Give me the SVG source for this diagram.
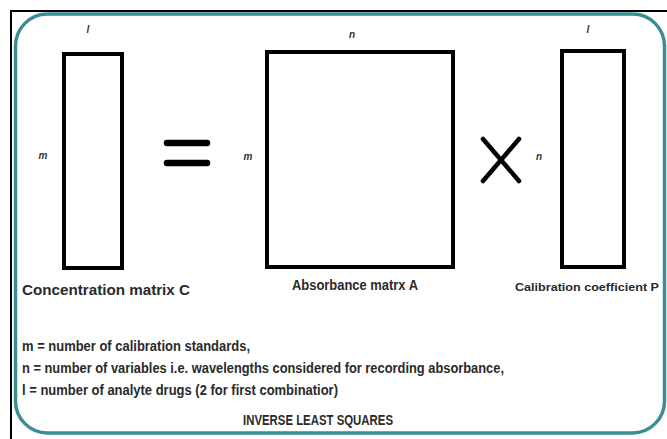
<svg xmlns="http://www.w3.org/2000/svg" width="667" height="439" viewBox="0 0 667 439">
<style>
.t{font-family:"Liberation Sans",Arial,sans-serif;font-weight:bold;fill:#2a2a2a;font-size:14px}
.d{font-family:"Liberation Sans",Arial,sans-serif;font-style:italic;font-weight:bold;fill:#333;font-size:10px}
.box{fill:none;stroke:#000;stroke-width:4}
</style>
<rect x="0" y="0" width="667" height="439" fill="#fff"/>
<rect x="11" y="11" width="670" height="440" fill="none" stroke="#000" stroke-width="2"/>
<rect x="15.5" y="14" width="649" height="419" rx="32" ry="32" fill="#fff" stroke="#3a8e93" stroke-width="3.5"/>
<g id="matrixC">
<rect class="box" x="64" y="54" width="58" height="214"/>
<text class="d" x="88" y="33" text-anchor="middle">l</text>
<text class="d" x="43" y="159" text-anchor="middle">m</text>
<text class="t" x="22" y="295" textLength="168" lengthAdjust="spacingAndGlyphs">Concentration matrix C</text>
</g>
<g id="equals">
<line x1="167" y1="143" x2="207" y2="143" stroke="#000" stroke-width="6.5" stroke-linecap="round"/>
<line x1="167" y1="163" x2="207" y2="163" stroke="#000" stroke-width="6.5" stroke-linecap="round"/>
</g>
<g id="matrixA">
<rect class="box" x="267" y="52" width="186" height="215"/>
<text class="d" x="352" y="38" text-anchor="middle">n</text>
<text class="d" x="248" y="160" text-anchor="middle">m</text>
<text class="t" x="292" y="290" textLength="126" lengthAdjust="spacingAndGlyphs">Absorbance matrx A</text>
</g>
<g id="times">
<line x1="483" y1="139" x2="519" y2="181" stroke="#000" stroke-width="4.5" stroke-linecap="round"/>
<line x1="519" y1="139" x2="483" y2="181" stroke="#000" stroke-width="4.5" stroke-linecap="round"/>
</g>
<g id="matrixP">
<rect class="box" x="562" y="51" width="62" height="216"/>
<text class="d" x="588" y="33" text-anchor="middle">l</text>
<text class="d" x="539" y="160" text-anchor="middle">n</text>
<text class="t" x="515" y="291" style="font-size:11.5px" textLength="144" lengthAdjust="spacingAndGlyphs">Calibration coefficient P</text>
</g>
<g id="legend">
<text class="t" x="22" y="351" textLength="228" lengthAdjust="spacingAndGlyphs">m = number of calibration standards,</text>
<text class="t" x="22" y="373" textLength="482" lengthAdjust="spacingAndGlyphs">n = number of variables i.e. wavelengths considered for recording absorbance,</text>
<text class="t" x="22" y="395" textLength="316" lengthAdjust="spacingAndGlyphs">l = number of analyte drugs (2 for first combinatior)</text>
<text class="t" x="243" y="425" textLength="150" lengthAdjust="spacingAndGlyphs">INVERSE LEAST SQUARES</text>
</g>
</svg>
